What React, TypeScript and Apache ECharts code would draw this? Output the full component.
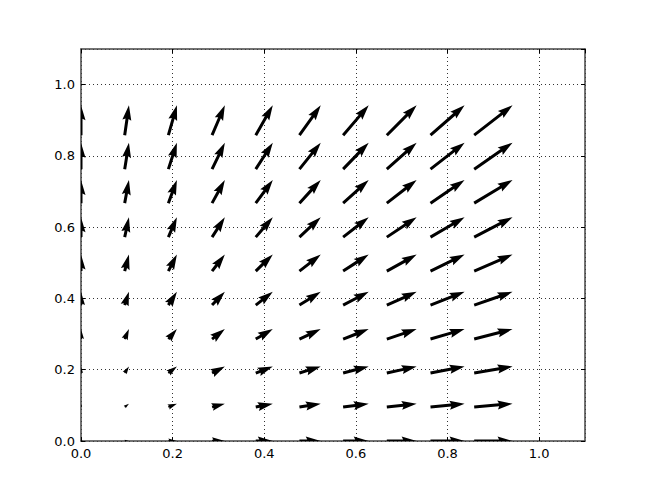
import React, { useEffect, useRef } from "react";
import * as echarts from "echarts";

// grid positions of the arrows
const xs = [0.0, 0.1, 0.2, 0.3, 0.4, 0.5, 0.6, 0.7, 0.8, 0.9];
const ys = [0.0, 0.1, 0.2, 0.3, 0.4, 0.5, 0.6, 0.7, 0.8, 0.9];

// U[j][i], V[j][i]: vector components at (xs[i], ys[j])
const U = [
  [0.0, 0.1, 0.2, 0.3, 0.4, 0.5, 0.6, 0.7, 0.8, 0.9],
  [0.0, 0.1, 0.2, 0.3, 0.4, 0.5, 0.6, 0.7, 0.8, 0.9],
  [0.0, 0.1, 0.2, 0.3, 0.4, 0.5, 0.6, 0.7, 0.8, 0.9],
  [0.0, 0.1, 0.2, 0.3, 0.4, 0.5, 0.6, 0.7, 0.8, 0.9],
  [0.0, 0.1, 0.2, 0.3, 0.4, 0.5, 0.6, 0.7, 0.8, 0.9],
  [0.0, 0.1, 0.2, 0.3, 0.4, 0.5, 0.6, 0.7, 0.8, 0.9],
  [0.0, 0.1, 0.2, 0.3, 0.4, 0.5, 0.6, 0.7, 0.8, 0.9],
  [0.0, 0.1, 0.2, 0.3, 0.4, 0.5, 0.6, 0.7, 0.8, 0.9],
  [0.0, 0.1, 0.2, 0.3, 0.4, 0.5, 0.6, 0.7, 0.8, 0.9],
  [0.0, 0.1, 0.2, 0.3, 0.4, 0.5, 0.6, 0.7, 0.8, 0.9],
];
const V = [
  [0.0, 0.0, 0.0, 0.0, 0.0, 0.0, 0.0, 0.0, 0.0, 0.0],
  [0.1, 0.1, 0.1, 0.1, 0.1, 0.1, 0.1, 0.1, 0.1, 0.1],
  [0.2, 0.2, 0.2, 0.2, 0.2, 0.2, 0.2, 0.2, 0.2, 0.2],
  [0.3, 0.3, 0.3, 0.3, 0.3, 0.3, 0.3, 0.3, 0.3, 0.3],
  [0.4, 0.4, 0.4, 0.4, 0.4, 0.4, 0.4, 0.4, 0.4, 0.4],
  [0.5, 0.5, 0.5, 0.5, 0.5, 0.5, 0.5, 0.5, 0.5, 0.5],
  [0.6, 0.6, 0.6, 0.6, 0.6, 0.6, 0.6, 0.6, 0.6, 0.6],
  [0.7, 0.7, 0.7, 0.7, 0.7, 0.7, 0.7, 0.7, 0.7, 0.7],
  [0.8, 0.8, 0.8, 0.8, 0.8, 0.8, 0.8, 0.8, 0.8, 0.8],
  [0.9, 0.9, 0.9, 0.9, 0.9, 0.9, 0.9, 0.9, 0.9, 0.9],
];

// quiver drawing parameters (data length per unit of vector, arrow shape in shaft widths)
const ARROW_SCALE = 0.093;
const SHAFT_W = 3.0;
const HEAD_W = 3;
const HEAD_L = 5;
const HEAD_AXIS_L = 4.5;

function arrowShape(Lw: number): number[][] {
  if (Lw < 1) {
    const pts: number[][] = [];
    for (let k = 0; k < 6; k++) {
      const th = (k * Math.PI) / 3;
      pts.push([Math.cos(th) * 0.5, Math.sin(th) * 0.5]);
    }
    return pts;
  }
  const minsh = HEAD_L;
  let px: number[];
  let py: number[];
  if (Lw < minsh) {
    const s = Lw / minsh;
    const x0 = [0, minsh - HEAD_AXIS_L, minsh - HEAD_L, minsh, minsh - HEAD_L, minsh - HEAD_AXIS_L, 0];
    const y0 = [0.5, 0.5, 0.5 * HEAD_W, 0, -0.5 * HEAD_W, -0.5, -0.5];
    px = x0.map((v) => v * s);
    py = y0.map((v) => v * s);
  } else {
    px = [0, Lw - HEAD_AXIS_L, Lw - HEAD_L, Lw, Lw - HEAD_L, Lw - HEAD_AXIS_L, 0];
    py = [0.5, 0.5, 0.5 * HEAD_W, 0, -0.5 * HEAD_W, -0.5, -0.5];
  }
  const tip = px[3];
  return px.map((x, i) => [x - 0.5 * tip, py[i]]);
}

export default function App() {
  const ref = useRef<HTMLDivElement>(null);
  useEffect(() => {
    if (!ref.current) return;
    const chart = echarts.init(ref.current, null, { renderer: "svg" });
    const data: number[][] = [];
    ys.forEach((y, j) => {
      xs.forEach((x, i) => {
        data.push([x, y, U[j][i], V[j][i]]);
      });
    });
    const fmt = (v: number) => v.toFixed(1);
    const tickStyle = { inside: true, length: 4, lineStyle: { color: "#000", width: 1 } };
    const axisLine = { show: true, onZero: false, lineStyle: { color: "#444", width: 1.5 } };
    const label = {
      formatter: fmt,
      color: "#000",
      fontFamily: "DejaVu Sans",
      fontSize: 13,
      showMaxLabel: false,
    };
    const split = { show: true, lineStyle: { color: "#333", width: 1, type: [1, 3] as any } };
    chart.setOption({
      animation: false,
      backgroundColor: "#fff",
      grid: { left: 81, right: 65, top: 49, bottom: 49 },
      xAxis: [
        { type: "value", min: 0, max: 1.1, interval: 0.2, position: "bottom", axisLine, axisTick: tickStyle, axisLabel: { ...label, margin: 6 }, splitLine: split },
        { type: "value", min: 0, max: 1.1, interval: 0.2, position: "top", axisLine, axisTick: tickStyle, axisLabel: { show: false }, splitLine: { show: false } },
      ],
      yAxis: [
        { type: "value", min: 0, max: 1.1, interval: 0.2, position: "left", axisLine, axisTick: tickStyle, axisLabel: { ...label, margin: 6 }, splitLine: split },
        { type: "value", min: 0, max: 1.1, interval: 0.2, position: "right", axisLine, axisTick: tickStyle, axisLabel: { show: false }, splitLine: { show: false } },
      ],
      series: [
        {
          type: "custom",
          xAxisIndex: 0,
          yAxisIndex: 0,
          clip: true,
          z: 1,
          data,
          renderItem: (params: any, api: any) => {
            const x = api.value(0);
            const y = api.value(1);
            const u = api.value(2);
            const v = api.value(3);
            const c = api.coord([x, y]);
            const e = api.coord([x + u * ARROW_SCALE, y + v * ARROW_SCALE]);
            const dx = e[0] - c[0];
            const dy = e[1] - c[1];
            const L = Math.hypot(dx, dy);
            const ang = Math.atan2(dy, dx);
            const cs = Math.cos(ang);
            const sn = Math.sin(ang);
            const shape = arrowShape(L / SHAFT_W);
            const points = shape.map(([px, py]) => [
              c[0] + SHAFT_W * (px * cs - py * sn),
              c[1] + SHAFT_W * (px * sn + py * cs),
            ]);
            return {
              type: "polygon",
              shape: { points },
              style: { fill: "#000", stroke: "none" },
            };
          },
        },
      ],
    });
    return () => chart.dispose();
  }, []);
  return (
    <div
      ref={ref}
      style={{ position: "fixed", left: 0, top: 0, width: 650, height: 490 }}
    />
  );
}
